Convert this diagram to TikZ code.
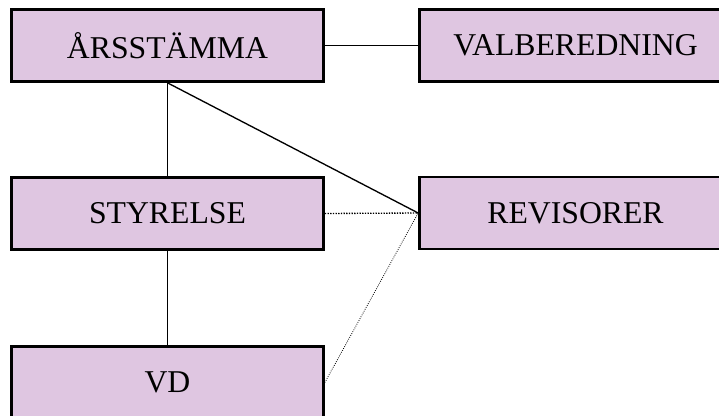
\documentclass[tikz,border=0pt]{standalone}
\usepackage{fontspec}
\setmainfont{Liberation Serif}
\definecolor{lila}{RGB}{223,198,225}
\tikzset{
  orgbox/.style={draw,line width=2pt,fill=lila,minimum width=234pt,minimum height=54pt,inner sep=0pt,font=\fontsize{23.8}{27}\selectfont},
  link/.style={line width=1pt}
}
\begin{document}
\begin{tikzpicture}[x=0.75pt,y=-0.75pt]
                \useasboundingbox (0,0) rectangle (719,415);
                \node[orgbox] (stamma) at (167.5,45.5) {ÅRSSTÄMMA};
                \node[orgbox] (valb) at (575.5,45.5) {VALBEREDNING};
                \node[orgbox] (styr) at (167.5,213.5) {STYRELSE};
                \node[orgbox] (rev) at (575.5,213) {REVISORER};
                \node[orgbox] (vd) at (167.5,382.5) {VD};
                \draw[link] (stamma.east) -- (valb.west);
                \draw[link] (stamma.south) -- (styr.north);
                \draw[link] (styr.south) -- (vd.north);
                \draw[link] (stamma.south) -- (rev.west);
                \draw[link,densely dotted] (styr.east) -- (rev.west);
                \draw[line width=0.6pt,densely dotted] (vd.east) -- (rev.west);
            \end{tikzpicture}
\end{document}
